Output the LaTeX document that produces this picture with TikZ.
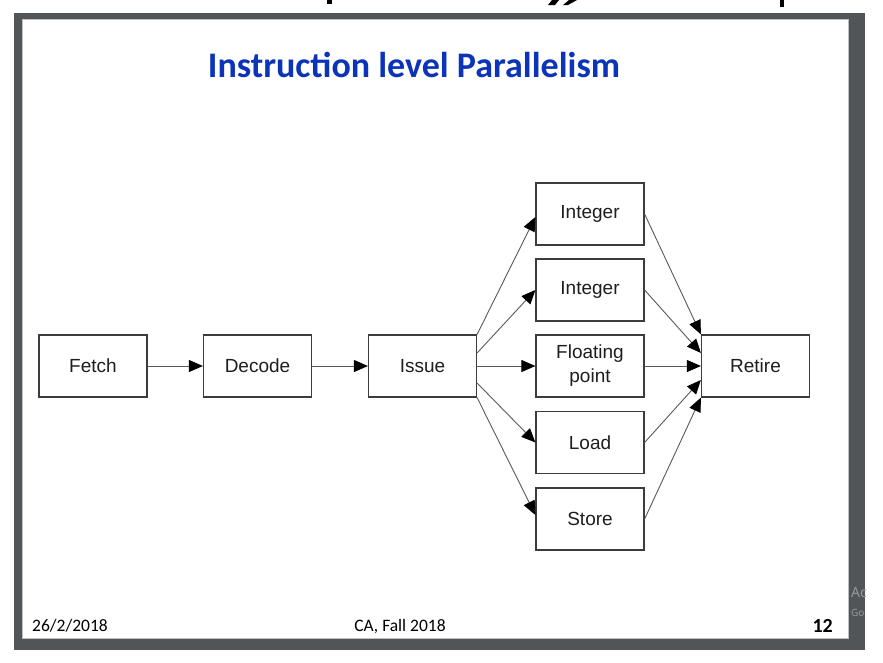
\documentclass[tikz,border=0pt]{standalone}
\usepackage{fontspec}
\setmainfont{Liberation Sans}
\newfontfamily\calibri{Carlito}
\newfontfamily\notosans{Noto Sans}
\usetikzlibrary{arrows.meta,calc}

\definecolor{framegray}{RGB}{81,85,88}
\definecolor{titleblue}{RGB}{12,52,184}
\definecolor{boxline}{RGB}{60,60,60}
\definecolor{flowline}{RGB}{90,90,90}
\definecolor{marktext}{RGB}{150,154,157}
\definecolor{labeltext}{RGB}{30,30,30}

\begin{document}
\begin{tikzpicture}[x=1pt,y=-1pt,
  stage/.style={draw=boxline, line width=1.2pt, fill=white,
    minimum width=108pt, minimum height=62pt, inner sep=0pt,
    align=center, text=labeltext,
    font=\fontsize{19}{24}\selectfont},
  flow/.style={draw=flowline, line width=0.9pt,
    -{Triangle[length=14pt,width=12pt,black]}},
  foot/.style={font=\calibri\fontsize{17.5}{20}\selectfont,
    inner sep=0pt, text=black},
  wmark/.style={anchor=base west, inner sep=0pt, text=marktext}
]
\useasboundingbox (0,0) rectangle (883,662);
\fill[white] (0,0) rectangle (883,662);

% descender strokes of the line of type above the slide window
\fill[black] (327,0) rectangle (332,4);
\fill[black] (552,0) -- (559,0) -- (555,5) -- (548,5) -- cycle;
\fill[black] (569,0) -- (577,0) -- (568,5) -- (563,5) -- cycle;
\fill[black] (780,0) rectangle (784,7);

% slide window
\fill[framegray] (14,13) rectangle (865,650);
\filldraw[fill=white, draw=black!25, line width=0.8pt] (22,19) rectangle (848,638);

% system watermark at the right edge of the window
\begin{scope}
  \clip (848.5,560) rectangle (865,640);
  \node[wmark, font=\notosans\fontsize{14}{14}\selectfont] (markA) at (851,597) {Activate};
  \node[wmark, font=\notosans\fontsize{10}{10}\selectfont] (markB) at (851,616) {Go to};
\end{scope}

% heading
\node[font=\calibri\bfseries\fontsize{36}{40}\selectfont, text=titleblue,
  anchor=base, inner sep=0pt] (title) at (414,77) {Instruction level Parallelism};

% pipeline stages
\node[stage] (fetch)  at (93,366)    {Fetch};
\node[stage] (decode) at (257.5,366) {Decode};
\node[stage] (issue)  at (422.5,366) {Issue};
\node[stage] (int1)   at (590,214)   {Integer};
\node[stage] (int2)   at (590,290)   {Integer};
\node[stage] (fp)     at (590,366)   {Floating\\point};
\node[stage] (load)   at (590,442.5) {Load};
\node[stage] (store)  at (590,519)   {Store};
\node[stage] (retire) at (755.5,366) {Retire};

% in-order front end
\draw[flow] (fetch) -- (decode);
\draw[flow] (decode) -- (issue);

% issue to the functional units
\draw[flow] (issue.north east) -- ($(int1.west)+(0,3)$);
\draw[flow] ($(issue.east)+(0,-13)$) -- (int2.west);
\draw[flow] (issue) -- (fp);
\draw[flow] ($(issue.east)+(0,17)$) -- (load.west);
\draw[flow] (issue.south east) -- ($(store.west)+(0,-4)$);

% functional units to retire
\draw[flow] (int1.east) -- (retire.north west);
\draw[flow] (int2.east) -- ($(retire.west)+(0,-13)$);
\draw[flow] (fp) -- (retire);
\draw[flow] (load.east) -- ($(retire.west)+(0,14)$);
\draw[flow] (store.east) -- (retire.south west);

% footer
\node[foot, anchor=base west] (date) at (32,631) {26/2/2018};
\node[foot, anchor=base] (course) at (400,631) {CA, Fall 2018};
\node[foot, anchor=base east, font=\calibri\bfseries\fontsize{20}{22}\selectfont] (page) at (833,632) {12};
\end{tikzpicture}
\end{document}
